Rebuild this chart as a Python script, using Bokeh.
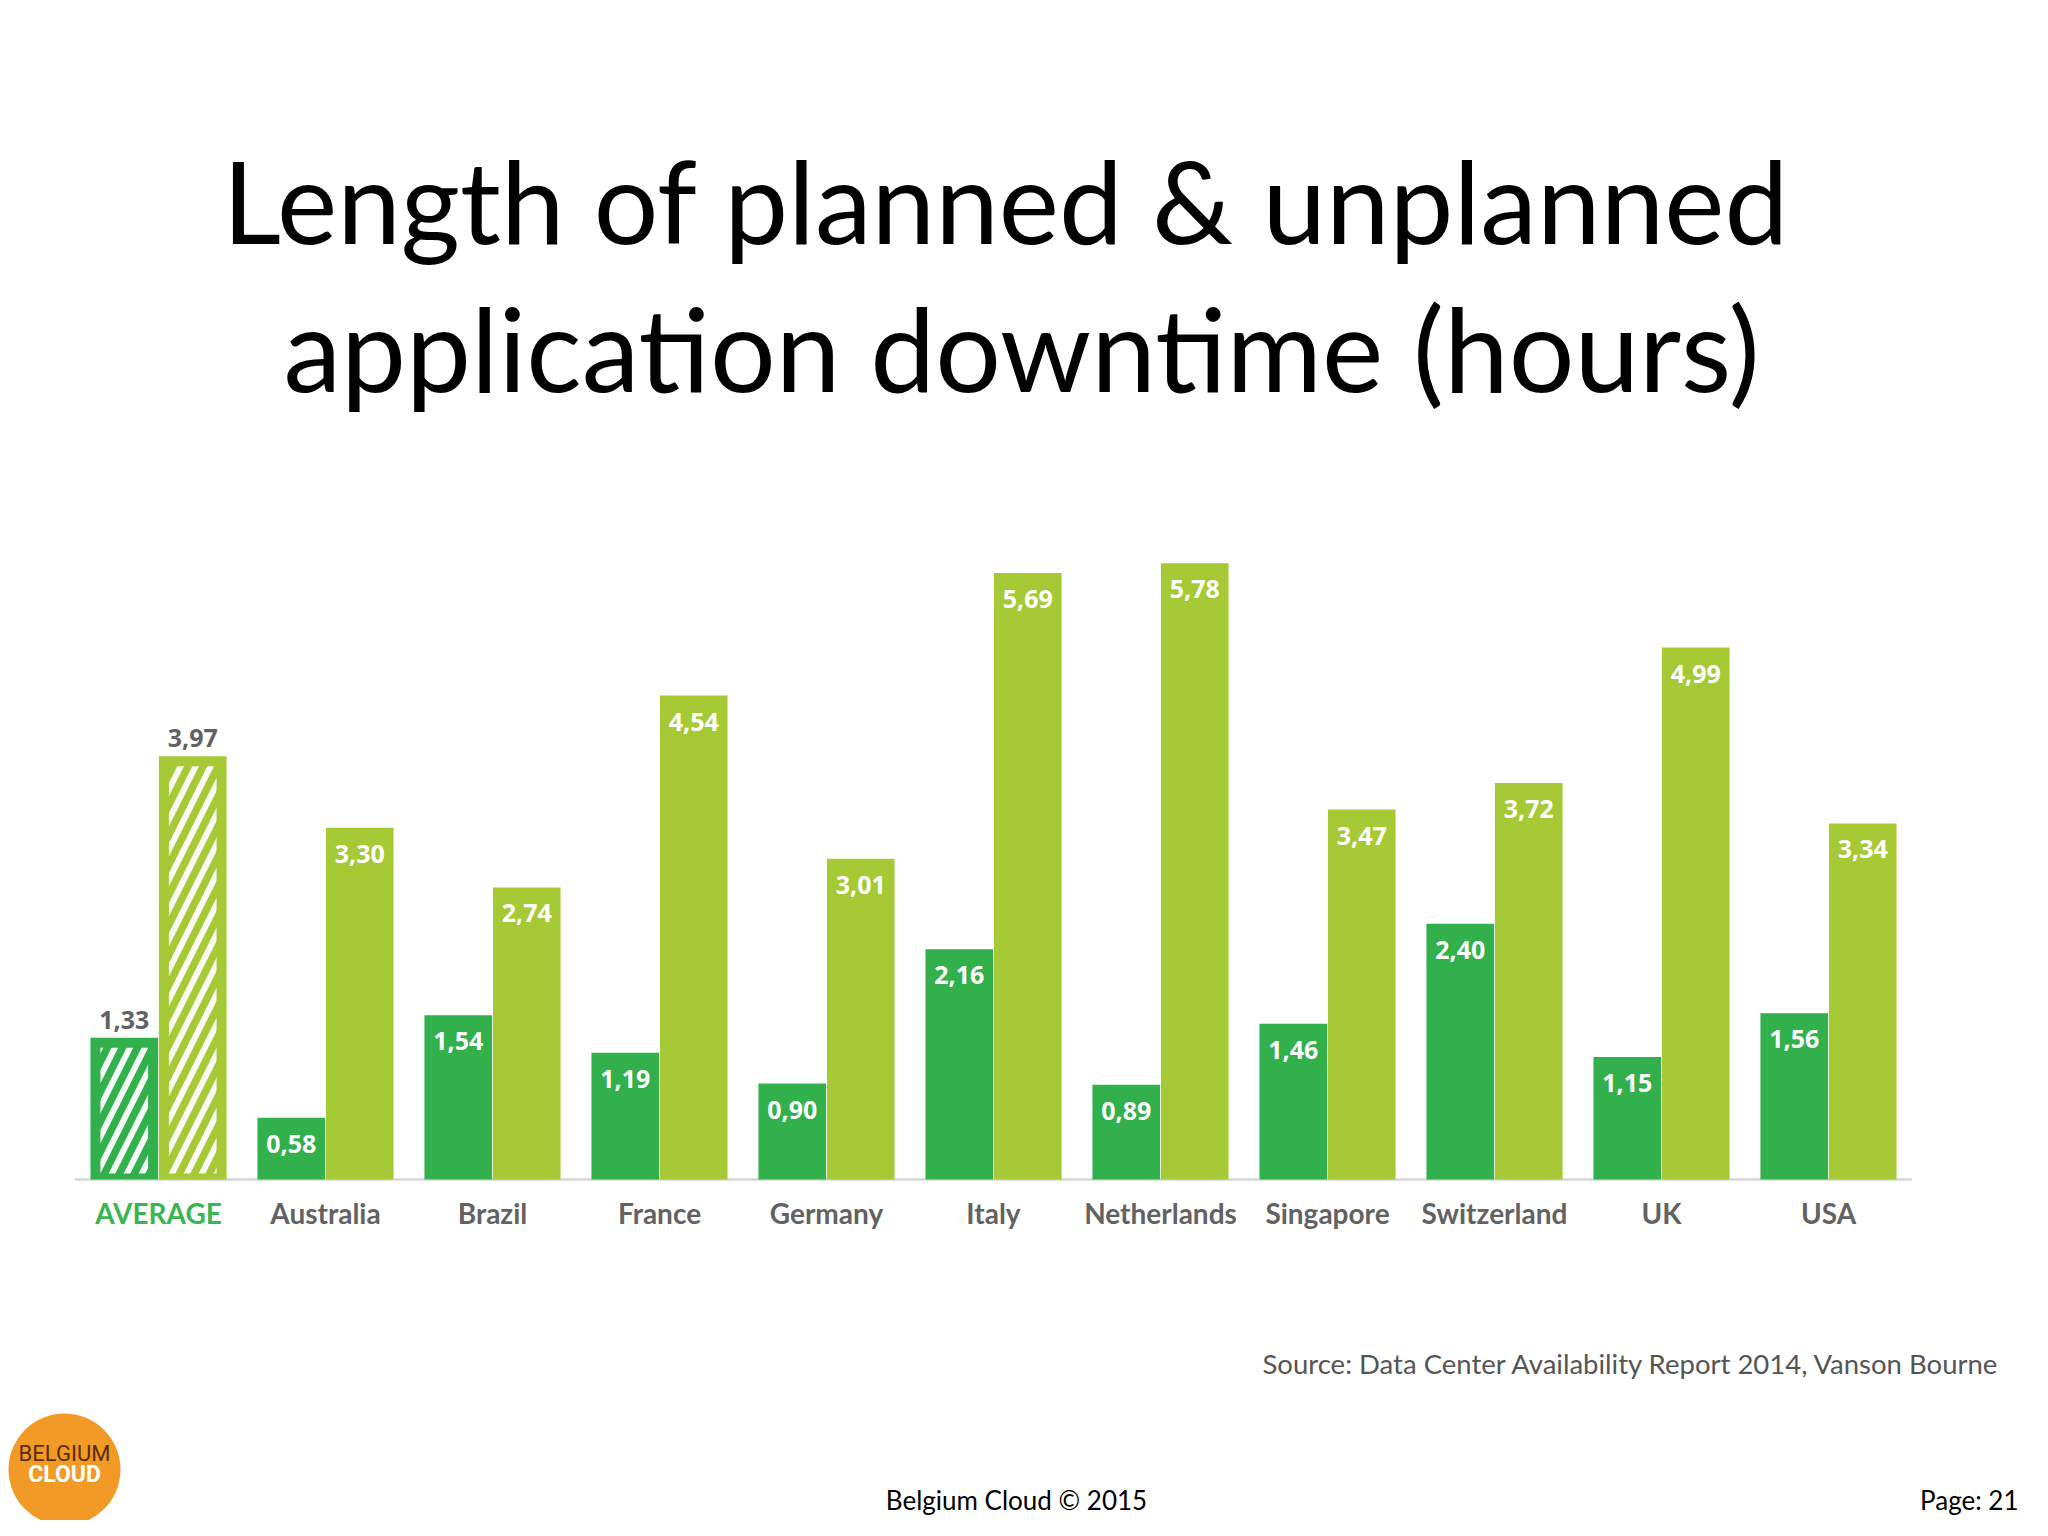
from bokeh.plotting import figure
from bokeh.models import Range1d, ColumnDataSource
from bokeh.core.properties import value
from bokeh.embed import file_html
from bokeh.resources import INLINE

# ---------------- data ----------------
categories = ["AVERAGE", "Australia", "Brazil", "France", "Germany", "Italy",
              "Netherlands", "Singapore", "Switzerland", "UK", "USA"]
planned = [1.33, 0.58, 1.54, 1.19, 0.90, 2.16, 0.89, 1.46, 2.40, 1.15, 1.56]
unplanned = [3.97, 3.30, 2.74, 4.54, 3.01, 5.69, 5.78, 3.47, 3.72, 4.99, 3.34]

title_lines = ["Length of planned & unplanned", "application downtime (hours)"]
source_note = "Source: Data Center Availability Report 2014, Vanson Bourne"
footer_center = "Belgium Cloud \u00a9 2015"
footer_page = "Page: 21"
logo_top = "BELGIUM"
logo_bottom = "CLOUD"

# ---------------- styles ----------------
DARK = "#31b04b"
LIGHT = "#a6c936"
GRAY = "#626262"
W, H = 2032, 1520
GROUP_PX = 167.0      # pixels per category
HOUR_PX = 106.6       # pixels per hour
ORIGIN_X = 158.0      # canvas px of first category centre
BASE_Y = 1179.0       # canvas px (from top) of the zero line
BAR_W = 0.405
DODGE = 0.205

x0 = -ORIGIN_X / GROUP_PX
y0 = -(H - BASE_Y) / HOUR_PX


def dx(px):
    return x0 + px / GROUP_PX


def dy(py):
    return y0 + (H - py) / HOUR_PX


p = figure(width=W, height=H,
           x_range=Range1d(x0, x0 + W / GROUP_PX),
           y_range=Range1d(y0, y0 + H / HOUR_PX),
           output_backend="svg", toolbar_location=None,
           x_axis_location=None, y_axis_location=None,
           min_border=0, outline_line_color=None)
p.grid.visible = False
p.background_fill_color = "white"
p.border_fill_color = "white"

n = len(categories)
idx = list(range(n))
src = ColumnDataSource(dict(
    cat=categories,
    xd=[i - DODGE for i in idx],
    xl=[i + DODGE for i in idx],
    planned=planned,
    unplanned=unplanned,
    planned_lbl=[f"{v:.2f}".replace(".", ",") for v in planned],
    unplanned_lbl=[f"{v:.2f}".replace(".", ",") for v in unplanned],
    xc=idx,
    cat_color=["#3bb54f" if c == "AVERAGE" else GRAY for c in categories],
))

# baseline
p.segment(x0=[-0.5], y0=[0], x1=[n - 0.5], y1=[0], line_color="#d6d6d6", line_width=2.5)

# bars
p.vbar(x="xd", top="planned", bottom=0, width=BAR_W, source=src, fill_color=DARK, line_color=None)
p.vbar(x="xl", top="unplanned", bottom=0, width=BAR_W, source=src, fill_color=LIGHT, line_color=None)

# hatched inset for the AVERAGE group
inset_x = 10 / GROUP_PX
inset_top = 10 / HOUR_PX
inset_bot = 6 / HOUR_PX
avg = [i for i, c in enumerate(categories) if c == "AVERAGE"]
for i in avg:
    p.vbar(x=[i - DODGE], top=[planned[i] - inset_top], bottom=inset_bot, width=BAR_W - 2 * inset_x,
           fill_color=DARK, line_color=None, hatch_pattern="/", hatch_color="white",
           hatch_weight=6, hatch_scale=30, hatch_alpha=0.95)
    p.vbar(x=[i + DODGE], top=[unplanned[i] - inset_top], bottom=inset_bot, width=BAR_W - 2 * inset_x,
           fill_color=LIGHT, line_color=None, hatch_pattern="/", hatch_color="white",
           hatch_weight=6, hatch_scale=30, hatch_alpha=0.95)

# value labels
lab_font = value("Open Sans")
avg_src = ColumnDataSource({k: [v[i] for i in avg] for k, v in src.data.items()})
oth = [i for i in idx if i not in avg]
oth_src = ColumnDataSource({k: [v[i] for i in oth] for k, v in src.data.items()})
for s, col, off in ((avg_src, GRAY, -18), (oth_src, "white", 26)):
    p.text(x="xd", y="planned", text="planned_lbl", source=s, text_align="center",
           text_baseline="middle", y_offset=off, text_color=col, text_font=lab_font,
           text_font_size="25px", text_font_style="bold")
    p.text(x="xl", y="unplanned", text="unplanned_lbl", source=s, text_align="center",
           text_baseline="middle", y_offset=off, text_color=col, text_font=lab_font,
           text_font_size="25px", text_font_style="bold")

# category labels
p.text(x="xc", y=dy(1212), text="cat", source=src, text_align="center", text_baseline="middle",
       text_color="cat_color", text_font=value("Lato"), text_font_size="28px", text_font_style="bold")

# title
title_font = value("Lato")
p.text(x=[dx(1006)], y=[dy(199)], text=[title_lines[0]], text_align="center", text_baseline="alphabetic",
       text_color="black", text_font=title_font, text_font_size="114px")
p.text(x=[dx(1021)], y=[dy(347)], text=[title_lines[1]], text_align="center", text_baseline="alphabetic",
       text_color="black", text_font=title_font, text_font_size="116px")

# source + footer
p.text(x=[dx(2000)], y=[dy(1363)], text=[source_note], text_align="right", text_baseline="middle",
       text_color="#555555", text_font=value("Lato"), text_font_size="27.5px")
p.text(x=[dx(1016)], y=[dy(1499)], text=[footer_center], text_align="center", text_baseline="middle",
       text_color="black", text_font=value("Lato"), text_font_size="26px")
p.text(x=[dx(2018)], y=[dy(1499)], text=[footer_page], text_align="right", text_baseline="middle",
       text_color="black", text_font=value("Lato"), text_font_size="26px")

# logo
p.scatter(x=[dx(64)], y=[dy(1469)], size=112, marker="circle", fill_color="#f29a26", line_color=None)
p.text(x=[dx(64)], y=[dy(1453)], text=[logo_top], text_align="center", text_baseline="middle",
       text_color="#5a2c0a", text_font=value("Roboto"), text_font_size="22px")
p.text(x=[dx(64)], y=[dy(1474)], text=[logo_bottom], text_align="center", text_baseline="middle",
       text_color="white", text_font=value("Roboto"), text_font_size="23px", text_font_style="bold")

open("out.html", "w").write(file_html(p, INLINE))
